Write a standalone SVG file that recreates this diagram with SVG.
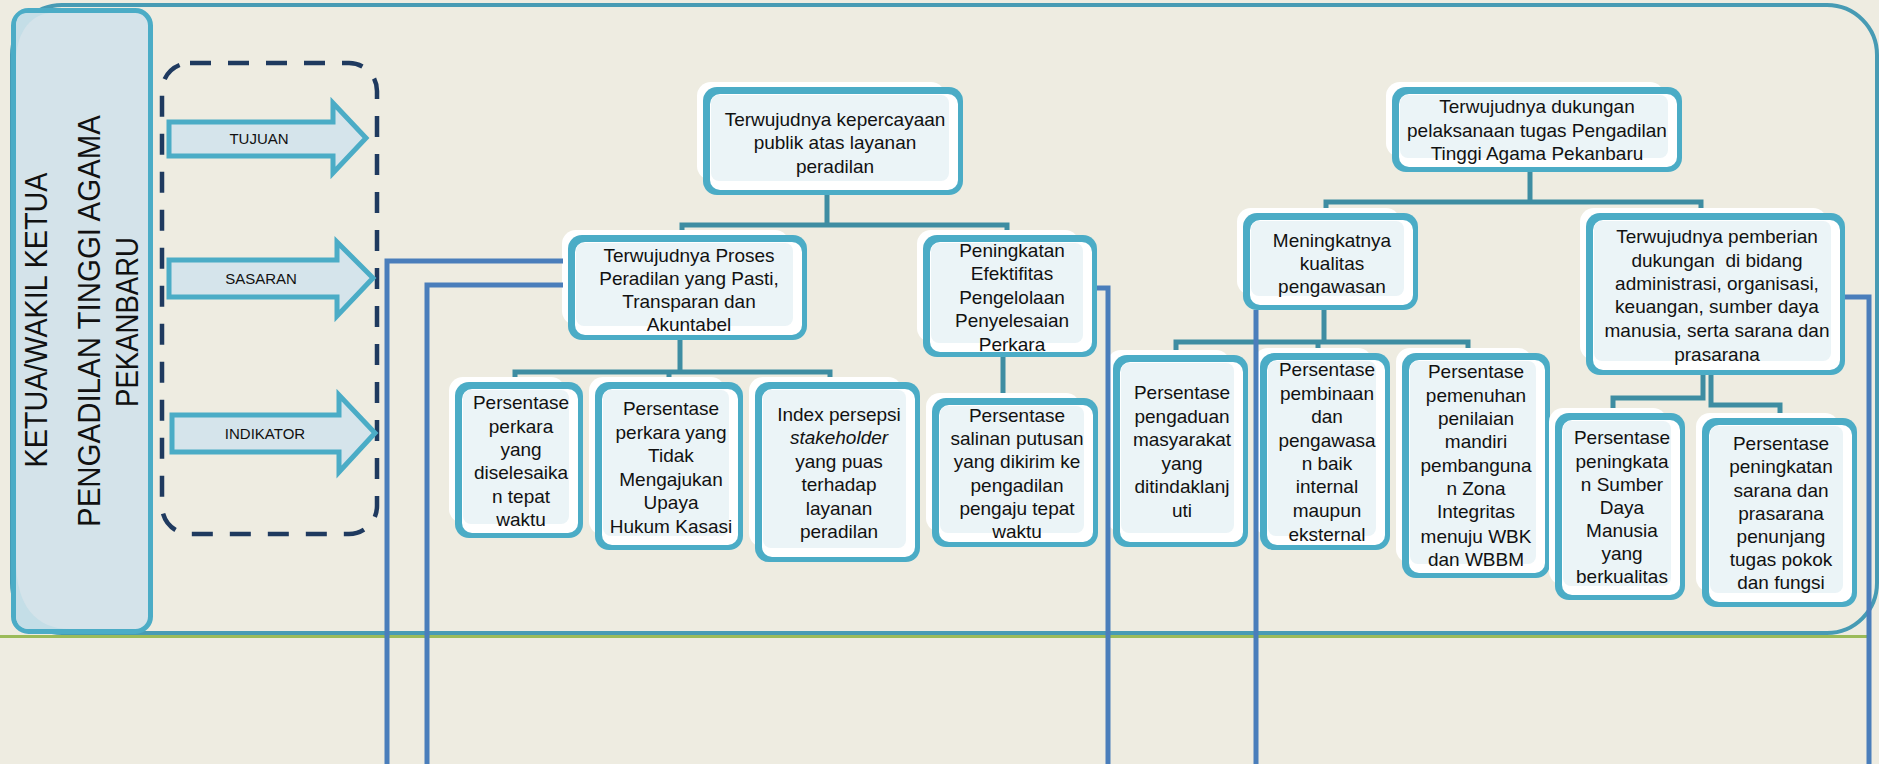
<svg xmlns="http://www.w3.org/2000/svg" width="1879" height="764" viewBox="0 0 1879 764">
<style>
.halo{fill:#ffffff}
.frame{fill:#4BACC6}
.inner{fill:#ffffff}
.fill{fill:#EBF4F7}
.t{font-family:"Liberation Sans",Arial,sans-serif;font-size:19px;fill:#111;text-anchor:middle}
.lbl{font-family:"Liberation Sans",Arial,sans-serif;font-size:15px;fill:#111;text-anchor:middle}
.vt{font-family:"Liberation Sans",Arial,sans-serif;font-size:31px;fill:#111;text-anchor:middle}
.conn{stroke:#3E8DA2;stroke-width:5;fill:none}
.blue{stroke:#4A7EBB;stroke-width:5;fill:none}
.arrow{fill:#D5E4EB;stroke:#4BACC6;stroke-width:5;stroke-linejoin:miter}
.gloss{fill:#C4DEE7}
</style>
<rect x="0" y="0" width="1879" height="764" fill="#EEECE1"/>
<g id="container">
<rect x="12" y="5" width="1865" height="628" rx="50" fill="none" stroke="#479BB4" stroke-width="4"/>
<line x1="0" y1="636.5" x2="1870" y2="636.5" stroke="#9BBB59" stroke-width="3"/>
</g>
<g id="leftbox">
<rect x="13.5" y="10.5" width="137" height="621" rx="15" fill="#D4E3EA" stroke="#4BACC6" stroke-width="5"/>
<path class="gloss" d="M16,62 C16,36 28,15 50,13 L28,13 Q16,13 16,26 Z"/>
<path class="gloss" d="M16,560 C16,606 36,629 70,629 L30,629 Q16,629 16,615 Z"/>
<text class="vt" transform="translate(47,320) rotate(-90)" textLength="295" lengthAdjust="spacingAndGlyphs">KETUA/WAKIL KETUA</text>
<text class="vt" transform="translate(100,321) rotate(-90)" textLength="412" lengthAdjust="spacingAndGlyphs">PENGADILAN TINGGI AGAMA</text>
<text class="vt" transform="translate(138,322) rotate(-90)" textLength="170" lengthAdjust="spacingAndGlyphs">PEKANBARU</text>
</g>
<g id="legend">
<rect x="162" y="63" width="215" height="471" rx="28" fill="none" stroke="#1F3A5F" stroke-width="4.5" stroke-dasharray="21 17"/>
<g id="tujuan">
<polygon class="arrow" points="169,122 333,122 333,103 366,138 333,173 333,156 169,156"/>
<text class="lbl" x="259" y="144">TUJUAN</text>
</g>
<g id="sasaran">
<polygon class="arrow" points="169,260 337,260 337,242 373,278 337,316 337,297 169,297"/>
<text class="lbl" x="261" y="284">SASARAN</text>
</g>
<g id="indikator">
<polygon class="arrow" points="172,415 339,415 339,395 375,433 339,472 339,452 172,452"/>
<text class="lbl" x="265" y="439">INDIKATOR</text>
</g>
</g>
<g id="connectors">
<path class="conn" d="M827,195 V225 M682,236 V225 H1007 V236"/>
<path class="conn" d="M680,340 V372 M515,382 V372 H830 V382 M669,372 V382"/>
<path class="conn" d="M1003,357 V396"/>
<path class="conn" d="M1530,172 V202 M1326,213 V202 H1701 V213"/>
<path class="conn" d="M1324,310 V342 M1176,355 V342 H1468 V355 M1318,342 V353"/>
<path class="conn" d="M1703,375 V398 H1613 V413 M1711,375 V405 H1780 V418"/>
</g>
<g id="n1">
<rect class="halo" x="697" y="82" width="248" height="98" rx="14"/>
<rect class="frame" x="703" y="87" width="260" height="108" rx="14"/>
<rect class="inner" x="710" y="94" width="248" height="96" rx="10"/>
<rect class="fill" x="711" y="95" width="238" height="86" rx="8"/>
<text class="t" x="835" y="125.5">Terwujudnya kepercayaan</text>
<text class="t" x="835" y="149">publik atas layanan</text>
<text class="t" x="835" y="172.5">peradilan</text>
</g>
<g id="n2">
<rect class="halo" x="1386" y="82" width="278" height="75" rx="14"/>
<rect class="frame" x="1392" y="87" width="290" height="85" rx="14"/>
<rect class="inner" x="1399" y="94" width="278" height="73" rx="10"/>
<rect class="fill" x="1400" y="95" width="268" height="63" rx="8"/>
<text class="t" x="1537" y="113">Terwujudnya dukungan</text>
<text class="t" x="1537" y="136.5">pelaksanaan tugas Pengadilan</text>
<text class="t" x="1537" y="159.5">Tinggi Agama Pekanbaru</text>
</g>
<g id="p1">
<rect class="halo" x="562" y="230" width="227" height="95" rx="14"/>
<rect class="frame" x="568" y="235" width="239" height="105" rx="14"/>
<rect class="inner" x="575" y="242" width="227" height="93" rx="10"/>
<rect class="fill" x="576" y="243" width="217" height="83" rx="8"/>
<text class="t" x="689" y="262">Terwujudnya Proses</text>
<text class="t" x="689" y="285">Peradilan yang Pasti,</text>
<text class="t" x="689" y="308">Transparan dan</text>
<text class="t" x="689" y="331">Akuntabel</text>
</g>
<g id="p2">
<rect class="halo" x="917" y="230" width="162" height="112" rx="14"/>
<rect class="frame" x="923" y="235" width="174" height="122" rx="14"/>
<rect class="inner" x="930" y="242" width="162" height="110" rx="10"/>
<rect class="fill" x="931" y="243" width="152" height="100" rx="8"/>
<text class="t" x="1012" y="257">Peningkatan</text>
<text class="t" x="1012" y="280">Efektifitas</text>
<text class="t" x="1012" y="303.5">Pengelolaan</text>
<text class="t" x="1012" y="327">Penyelesaian</text>
<text class="t" x="1012" y="351">Perkara</text>
</g>
<g id="m1">
<rect class="halo" x="1237" y="208" width="163" height="87" rx="14"/>
<rect class="frame" x="1243" y="213" width="175" height="97" rx="14"/>
<rect class="inner" x="1250" y="220" width="163" height="85" rx="10"/>
<rect class="fill" x="1251" y="221" width="153" height="75" rx="8"/>
<text class="t" x="1332" y="247">Meningkatnya</text>
<text class="t" x="1332" y="270">kualitas</text>
<text class="t" x="1332" y="293">pengawasan</text>
</g>
<g id="m2">
<rect class="halo" x="1580" y="208" width="247" height="152" rx="14"/>
<rect class="frame" x="1586" y="213" width="259" height="162" rx="14"/>
<rect class="inner" x="1593" y="220" width="247" height="150" rx="10"/>
<rect class="fill" x="1594" y="221" width="237" height="140" rx="8"/>
<text class="t" x="1717" y="243">Terwujudnya pemberian</text>
<text class="t" x="1717" y="267">dukungan&#160; di bidang</text>
<text class="t" x="1717" y="290">administrasi, organisasi,</text>
<text class="t" x="1717" y="313">keuangan, sumber daya</text>
<text class="t" x="1717" y="337">manusia, serta sarana dan</text>
<text class="t" x="1717" y="361">prasarana</text>
</g>
<g id="i1">
<rect class="halo" x="449" y="377" width="116" height="146" rx="14"/>
<rect class="frame" x="455" y="382" width="128" height="156" rx="14"/>
<rect class="inner" x="462" y="389" width="116" height="144" rx="10"/>
<rect class="fill" x="463" y="390" width="106" height="134" rx="8"/>
<text class="t" x="521" y="409">Persentase</text>
<text class="t" x="521" y="433">perkara</text>
<text class="t" x="521" y="456">yang</text>
<text class="t" x="521" y="479">diselesaika</text>
<text class="t" x="521" y="503">n tepat</text>
<text class="t" x="521" y="526">waktu</text>
</g>
<g id="i2">
<rect class="halo" x="589" y="377" width="136" height="158" rx="14"/>
<rect class="frame" x="595" y="382" width="148" height="168" rx="14"/>
<rect class="inner" x="602" y="389" width="136" height="156" rx="10"/>
<rect class="fill" x="603" y="390" width="126" height="146" rx="8"/>
<text class="t" x="671" y="415">Persentase</text>
<text class="t" x="671" y="439">perkara yang</text>
<text class="t" x="671" y="462">Tidak</text>
<text class="t" x="671" y="486">Mengajukan</text>
<text class="t" x="671" y="509">Upaya</text>
<text class="t" x="671" y="533">Hukum Kasasi</text>
</g>
<g id="i3">
<rect class="halo" x="749" y="377" width="153" height="170" rx="14"/>
<rect class="frame" x="755" y="382" width="165" height="180" rx="14"/>
<rect class="inner" x="762" y="389" width="153" height="168" rx="10"/>
<rect class="fill" x="763" y="390" width="143" height="158" rx="8"/>
<text class="t" x="839" y="421">Index persepsi</text>
<text class="t" x="839" y="444" font-style="italic">stakeholder</text>
<text class="t" x="839" y="468">yang puas</text>
<text class="t" x="839" y="491">terhadap</text>
<text class="t" x="839" y="515">layanan</text>
<text class="t" x="839" y="538">peradilan</text>
</g>
<g id="i4">
<rect class="halo" x="926" y="393" width="154" height="139" rx="14"/>
<rect class="frame" x="932" y="398" width="166" height="149" rx="14"/>
<rect class="inner" x="939" y="405" width="154" height="137" rx="10"/>
<rect class="fill" x="940" y="406" width="144" height="127" rx="8"/>
<text class="t" x="1017" y="422">Persentase</text>
<text class="t" x="1017" y="445">salinan putusan</text>
<text class="t" x="1017" y="468">yang dikirim ke</text>
<text class="t" x="1017" y="492">pengadilan</text>
<text class="t" x="1017" y="515">pengaju tepat</text>
<text class="t" x="1017" y="538">waktu</text>
</g>
<g id="i5">
<rect class="halo" x="1107" y="350" width="123" height="182" rx="14"/>
<rect class="frame" x="1113" y="355" width="135" height="192" rx="14"/>
<rect class="inner" x="1120" y="362" width="123" height="180" rx="10"/>
<rect class="fill" x="1121" y="363" width="113" height="170" rx="8"/>
<text class="t" x="1182" y="399">Persentase</text>
<text class="t" x="1182" y="423">pengaduan</text>
<text class="t" x="1182" y="446">masyarakat</text>
<text class="t" x="1182" y="470">yang</text>
<text class="t" x="1182" y="493">ditindaklanj</text>
<text class="t" x="1182" y="517">uti</text>
</g>
<g id="i6">
<rect class="halo" x="1254" y="348" width="118" height="187" rx="14"/>
<rect class="frame" x="1260" y="353" width="130" height="197" rx="14"/>
<rect class="inner" x="1267" y="360" width="118" height="185" rx="10"/>
<rect class="fill" x="1268" y="361" width="108" height="175" rx="8"/>
<text class="t" x="1327" y="376">Persentase</text>
<text class="t" x="1327" y="400">pembinaan</text>
<text class="t" x="1327" y="423">dan</text>
<text class="t" x="1327" y="447">pengawasa</text>
<text class="t" x="1327" y="470">n baik</text>
<text class="t" x="1327" y="493">internal</text>
<text class="t" x="1327" y="517">maupun</text>
<text class="t" x="1327" y="541">eksternal</text>
</g>
<g id="i7">
<rect class="halo" x="1396" y="348" width="136" height="215" rx="14"/>
<rect class="frame" x="1402" y="353" width="148" height="225" rx="14"/>
<rect class="inner" x="1409" y="360" width="136" height="213" rx="10"/>
<rect class="fill" x="1410" y="361" width="126" height="203" rx="8"/>
<text class="t" x="1476" y="378">Persentase</text>
<text class="t" x="1476" y="402">pemenuhan</text>
<text class="t" x="1476" y="425">penilaian</text>
<text class="t" x="1476" y="448">mandiri</text>
<text class="t" x="1476" y="472">pembanguna</text>
<text class="t" x="1476" y="495">n Zona</text>
<text class="t" x="1476" y="518">Integritas</text>
<text class="t" x="1476" y="543">menuju WBK</text>
<text class="t" x="1476" y="566">dan WBBM</text>
</g>
<g id="i8">
<rect class="halo" x="1549" y="408" width="118" height="177" rx="14"/>
<rect class="frame" x="1555" y="413" width="130" height="187" rx="14"/>
<rect class="inner" x="1562" y="420" width="118" height="175" rx="10"/>
<rect class="fill" x="1563" y="421" width="108" height="165" rx="8"/>
<text class="t" x="1622" y="444">Persentase</text>
<text class="t" x="1622" y="468">peningkata</text>
<text class="t" x="1622" y="491">n Sumber</text>
<text class="t" x="1622" y="514">Daya</text>
<text class="t" x="1622" y="537">Manusia</text>
<text class="t" x="1622" y="560">yang</text>
<text class="t" x="1622" y="583">berkualitas</text>
</g>
<g id="i9">
<rect class="halo" x="1696" y="413" width="143" height="179" rx="14"/>
<rect class="frame" x="1702" y="418" width="155" height="189" rx="14"/>
<rect class="inner" x="1709" y="425" width="143" height="177" rx="10"/>
<rect class="fill" x="1710" y="426" width="133" height="167" rx="8"/>
<text class="t" x="1781" y="450">Persentase</text>
<text class="t" x="1781" y="473">peningkatan</text>
<text class="t" x="1781" y="497">sarana dan</text>
<text class="t" x="1781" y="520">prasarana</text>
<text class="t" x="1781" y="543">penunjang</text>
<text class="t" x="1781" y="566">tugas pokok</text>
<text class="t" x="1781" y="589">dan fungsi</text>
</g>
<g id="blue-connectors">
<path class="blue" d="M563,261 H387 V764"/>
<path class="blue" d="M563,285 H427 V764"/>
<path class="blue" d="M1097,288 H1108 V764"/>
<path class="blue" d="M1256,310 V764"/>
<path class="blue" d="M1845,297 H1869 V764"/>
</g>
</svg>
